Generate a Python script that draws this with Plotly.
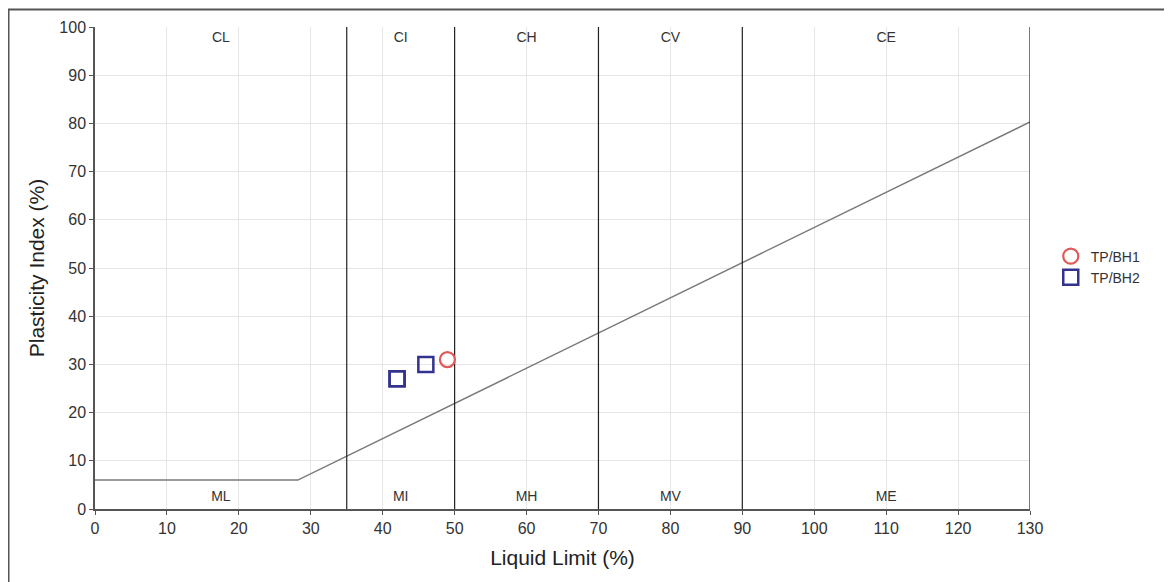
import plotly.graph_objects as go

# A-line
aline_x = [0, 28.2, 130]
aline_y = [6, 6, 80.3]
# Zone boundaries (liquid limit)
boundaries = [35, 50, 70, 90]
# Zone labels
upper_labels = ["CL", "CI", "CH", "CV", "CE"]
lower_labels = ["ML", "MI", "MH", "MV", "ME"]
label_x = [17.5, 42.5, 60, 80, 110]
upper_y = 97.6
lower_y = 2.4
# Samples
bh1_ll = [49]
bh1_pi = [31]
bh2_ll = [42, 42, 46]
bh2_pi = [27, 27, 30]

fig = go.Figure()
fig.add_trace(go.Scatter(x=aline_x, y=aline_y, mode="lines",
                         line=dict(color="#7a7a7a", width=1.5), showlegend=False, hoverinfo="skip"))
for b in boundaries:
    fig.add_trace(go.Scatter(x=[b, b], y=[0, 100], mode="lines",
                             line=dict(color="#222222", width=1.2), showlegend=False, hoverinfo="skip"))
fig.add_trace(go.Scatter(x=[130, 130], y=[0, 100], mode="lines",
                         line=dict(color="#222222", width=1.2), showlegend=False, hoverinfo="skip"))
fig.add_trace(go.Scatter(x=label_x, y=[upper_y]*5, mode="text", text=upper_labels,
                         textfont=dict(size=14, color="#333333", family="Liberation Sans"),
                         showlegend=False, hoverinfo="skip"))
fig.add_trace(go.Scatter(x=label_x, y=[lower_y]*5, mode="text", text=lower_labels,
                         textfont=dict(size=14, color="#333333", family="Liberation Sans"),
                         showlegend=False, hoverinfo="skip"))
fig.add_trace(go.Scatter(x=bh1_ll, y=bh1_pi, mode="markers", name="TP/BH1",
                         marker=dict(symbol="circle-open", size=15, color="#e05a5a", line=dict(width=2.2))))
fig.add_trace(go.Scatter(x=bh2_ll, y=bh2_pi, mode="markers", name="TP/BH2",
                         marker=dict(symbol="square-open", size=15, color="#33338f", line=dict(width=2.5))))

fig.update_layout(
    width=1172, height=582,
    margin=dict(l=87, r=150, t=19, b=81),
    paper_bgcolor="white", plot_bgcolor="white",
    font=dict(family="Liberation Sans", color="#333333"),
    legend=dict(x=1.0222, y=0.502, xanchor="left", yanchor="middle",
                font=dict(size=14, color="#333333"), bgcolor="rgba(0,0,0,0)",
                itemwidth=30, tracegroupgap=0),
    shapes=[dict(type="rect", xref="paper", yref="paper", x0=-0.0925, x1=1.1465, y0=-0.3, y1=1.0363,
                 line=dict(color="#555555", width=2))],
)
fig.update_xaxes(range=[0, 130], dtick=10, tick0=0, showgrid=True, gridcolor="#e6e6e6",
                 showline=True, linecolor="#555555", linewidth=1.5, ticks="outside", ticklen=4,
                 tickcolor="#555555", tickfont=dict(size=16, color="#333333"), zeroline=False,
                 title=dict(text="Liquid Limit (%)", font=dict(size=21, color="#222222"), standoff=14))
fig.update_yaxes(range=[0, 100], dtick=10, tick0=0, showgrid=True, gridcolor="#e6e6e6",
                 showline=True, linecolor="#555555", linewidth=1.5, ticks="outside", ticklen=4,
                 tickcolor="#555555", tickfont=dict(size=16, color="#333333"), zeroline=False,
                 title=dict(text="Plasticity Index (%)", font=dict(size=21, color="#222222"), standoff=9))

fig.write_html("out.html")
